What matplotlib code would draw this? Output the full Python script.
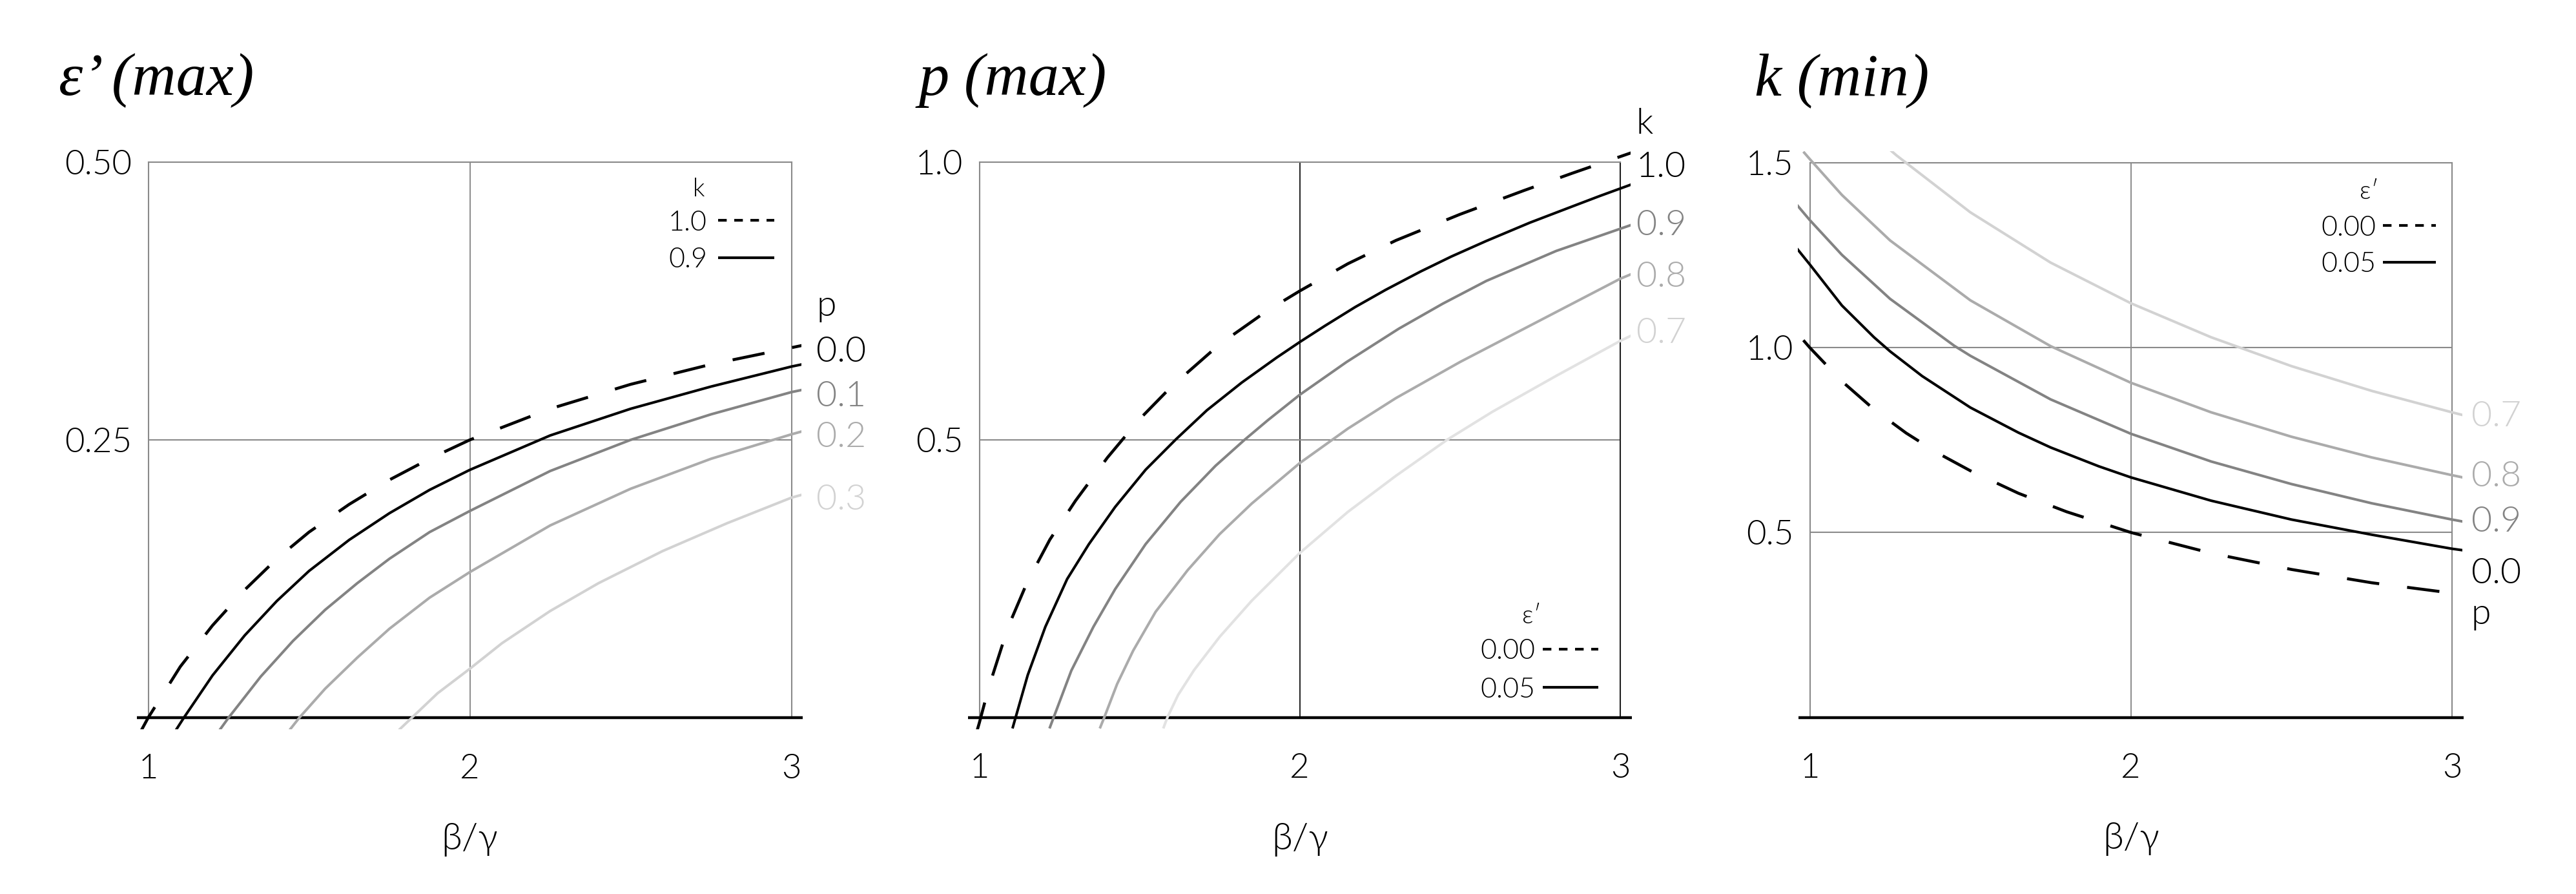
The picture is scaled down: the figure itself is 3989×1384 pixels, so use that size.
import matplotlib
matplotlib.use("Agg")
import matplotlib.pyplot as plt
from matplotlib.patches import Rectangle

# ---------------- data ----------------
# Panel 1: epsilon' (max) against beta/gamma
p1_k10_p00_x = [0.97, 1.0, 1.1, 1.2, 1.3, 1.4, 1.5, 1.625, 1.75, 1.875, 2.0, 2.25, 2.5, 2.75, 3.0, 3.05]
p1_k10_p00_y = [-0.016, 0.0, 0.046, 0.083, 0.115, 0.143, 0.167, 0.192, 0.214, 0.233, 0.250, 0.278, 0.300, 0.318, 0.333, 0.336]
p1_k09_p00_x = [1.08, 1.111, 1.2, 1.3, 1.4, 1.5, 1.625, 1.75, 1.875, 2.0, 2.25, 2.5, 2.75, 3.0, 3.05]
p1_k09_p00_y = [-0.014, 0.0, 0.038, 0.074, 0.105, 0.132, 0.160, 0.184, 0.205, 0.223, 0.254, 0.278, 0.298, 0.316, 0.319]
p1_p01_x = [1.22, 1.25, 1.35, 1.45, 1.55, 1.65, 1.75, 1.875, 2.0, 2.25, 2.5, 2.75, 3.0, 3.05]
p1_p01_y = [-0.012, 0.0, 0.037, 0.069, 0.097, 0.121, 0.143, 0.167, 0.186, 0.222, 0.250, 0.273, 0.293, 0.296]
p1_p02_x = [1.44, 1.47, 1.55, 1.65, 1.75, 1.875, 2.0, 2.25, 2.5, 2.75, 3.0, 3.05]
p1_p02_y = [-0.011, 0.0, 0.026, 0.054, 0.080, 0.108, 0.131, 0.173, 0.206, 0.233, 0.255, 0.259]
p1_p03_x = [1.78, 1.82, 1.9, 2.0, 2.1, 2.25, 2.4, 2.6, 2.8, 3.0, 3.05]
p1_p03_y = [-0.011, 0.0, 0.022, 0.044, 0.067, 0.096, 0.121, 0.150, 0.175, 0.198, 0.202]
p1_yticks = [0.25, 0.50]
p1_yticklabels = ["0.25", "0.50"]
p1_end_labels = ["p", "0.0", "0.1", "0.2", "0.3"]
p1_end_label_y = [0.373, 0.332, 0.292, 0.255, 0.199]
p1_legend_title = "k"
p1_legend_labels = ["1.0", "0.9"]

# Panel 2: p (max) against beta/gamma
p2_e00_k10_x = [0.99, 1.0, 1.03, 1.09, 1.15, 1.22, 1.3, 1.4, 1.5, 1.6, 1.75, 1.9, 2.0, 2.15, 2.3, 2.5, 2.7, 2.85, 3.0, 3.05]
p2_e00_k10_y = [-0.03, -0.01, 0.055, 0.163, 0.244, 0.320, 0.390, 0.468, 0.537, 0.596, 0.672, 0.733, 0.768, 0.817, 0.859, 0.906, 0.949, 0.980, 1.010, 1.020]
p2_k10_x = [1.1035, 1.151, 1.206, 1.274, 1.342, 1.424, 1.519, 1.614, 1.710, 1.819, 1.928, 2.0, 2.078, 2.173, 2.268, 2.377, 2.473, 2.582, 2.718, 2.854, 2.936, 3.05]
p2_k10_y = [-0.02, 0.076, 0.163, 0.249, 0.312, 0.379, 0.446, 0.501, 0.553, 0.603, 0.648, 0.676, 0.705, 0.739, 0.770, 0.803, 0.830, 0.858, 0.891, 0.921, 0.939, 0.963]
p2_k09_x = [1.219, 1.287, 1.356, 1.424, 1.519, 1.628, 1.737, 1.828, 1.9, 2.0, 2.146, 2.309, 2.446, 2.582, 2.80, 3.05]
p2_k09_y = [-0.02, 0.084, 0.163, 0.231, 0.312, 0.388, 0.453, 0.500, 0.535, 0.581, 0.640, 0.700, 0.745, 0.786, 0.840, 0.890]
p2_k08_x = [1.376, 1.39, 1.43, 1.48, 1.55, 1.65, 1.75, 1.85, 2.0, 2.15, 2.3, 2.5, 2.7, 2.85, 3.0, 3.05]
p2_k08_y = [-0.02, 0.0, 0.06, 0.12, 0.19, 0.265, 0.33, 0.385, 0.458, 0.52, 0.575, 0.64, 0.70, 0.745, 0.79, 0.802]
p2_k07_x = [1.574, 1.587, 1.62, 1.67, 1.75, 1.85, 2.0, 2.15, 2.3, 2.46, 2.6, 2.8, 3.0, 3.05]
p2_k07_y = [-0.02, 0.0, 0.04, 0.085, 0.145, 0.21, 0.296, 0.37, 0.435, 0.50, 0.55, 0.615, 0.678, 0.692]
p2_yticks = [0.5, 1.0]
p2_yticklabels = ["0.5", "1.0"]
p2_end_labels = ["k", "1.0", "0.9", "0.8", "0.7"]
p2_end_label_y = [1.074, 0.997, 0.892, 0.799, 0.697]
p2_legend_title = "ε′"
p2_legend_labels = ["0.00", "0.05"]

# Panel 3: k (min) against beta/gamma
p3_e00_p00_x = [0.98, 1.0, 1.1, 1.2, 1.3, 1.4, 1.5, 1.65, 1.8, 2.0, 2.25, 2.5, 2.75, 3.0, 3.05]
p3_e00_p00_y = [1.02, 1.0, 0.909, 0.833, 0.769, 0.714, 0.667, 0.606, 0.556, 0.50, 0.444, 0.40, 0.364, 0.336, 0.330]
p3_p00_x = [0.96, 1.0, 1.1, 1.2, 1.25, 1.35, 1.5, 1.65, 1.75, 1.9, 2.0, 2.25, 2.5, 2.75, 3.0, 3.05]
p3_p00_y = [1.268, 1.225, 1.114, 1.028, 0.990, 0.923, 0.838, 0.770, 0.730, 0.679, 0.649, 0.586, 0.535, 0.494, 0.456, 0.450]
p3_lab09_x = [0.96, 1.0, 1.1, 1.25, 1.45, 1.5, 1.75, 2.0, 2.25, 2.5, 2.75, 3.0, 3.05]
p3_lab09_y = [1.386, 1.345, 1.251, 1.132, 1.005, 0.978, 0.860, 0.767, 0.692, 0.631, 0.579, 0.535, 0.527]
p3_lab08_x = [0.98, 1.0, 1.1, 1.25, 1.5, 1.75, 2.0, 2.25, 2.5, 2.75, 3.0, 3.05]
p3_lab08_y = [1.530, 1.510, 1.413, 1.290, 1.128, 1.004, 0.905, 0.825, 0.759, 0.703, 0.655, 0.646]
p3_lab07_x = [1.25, 1.27, 1.5, 1.75, 2.0, 2.25, 2.5, 2.75, 3.0, 3.05]
p3_lab07_y = [1.535, 1.520, 1.366, 1.230, 1.120, 1.028, 0.950, 0.883, 0.825, 0.814]
p3_yticks = [0.5, 1.0, 1.5]
p3_yticklabels = ["0.5", "1.0", "1.5"]
p3_end_labels = ["0.7", "0.8", "0.9", "0.0", "p"]
p3_end_label_y = [0.822, 0.659, 0.537, 0.397, 0.287]
p3_legend_title = "ε′"
p3_legend_labels = ["0.00", "0.05"]

xticks = [1, 2, 3]
xticklabels = ["1", "2", "3"]
xlabel = "β/γ"
titles = ["ε’ (max)", "p (max)", "k (min)"]

# ---------------- style ----------------
plt.rcParams["font.family"] = ["Lato", "DejaVu Sans"]
plt.rcParams["font.weight"] = 300

BLACK = "#000000"
G1 = "#838383"
G2 = "#ababab"
G3 = "#d2d2d2"
G3b = "#e2e2e2"
FRAME = "#8a8a8a"

DASH = (0, (11, 9.5))
LEG_DASH = (0, (3.2, 2.8))
LW = 1.45
LWD = 1.65

W, H, DPI = 3989, 1384, 200
fig = plt.figure(figsize=(W / DPI, H / DPI), dpi=DPI)


def px_rect(l, r, t, b):
    return [l / W, (H - b) / H, (r - l) / W, (b - t) / H]


axes = [
    fig.add_axes(px_rect(229.5, 1225.5, 251, 1111)),
    fig.add_axes(px_rect(1516.5, 2509, 251, 1110.5)),
    fig.add_axes(px_rect(2802.5, 3797, 252, 1110.5)),
]


def setup(ax, ylim, yticks, yticklabels, vgrid_color=FRAME, right_color=FRAME):
    ax.set_xlim(1, 3)
    ax.set_ylim(*ylim)
    ax.set_xticks(xticks)
    ax.set_xticklabels(xticklabels)
    ax.set_yticks(yticks)
    ax.set_yticklabels(yticklabels)
    ax.tick_params(axis="both", length=0, labelsize=19, labelcolor=BLACK)
    ax.tick_params(axis="x", pad=20)
    ax.tick_params(axis="y", pad=9)
    ax.grid(True, axis="y", color=FRAME, lw=0.75)
    ax.grid(True, axis="x", color=vgrid_color, lw=0.7)
    ax.set_axisbelow(True)
    ax.spines["bottom"].set_visible(False)
    for s in ("left", "top"):
        ax.spines[s].set_color(FRAME)
        ax.spines[s].set_linewidth(0.75)
    ax.spines["right"].set_color(right_color)
    ax.spines["right"].set_linewidth(0.75)
    ax.axhline(0, xmin=-0.018, xmax=1.018, color=BLACK, lw=1.6, clip_on=False,
               solid_capstyle="butt", zorder=3)
    ax.text(0.5, -0.22, xlabel, transform=ax.transAxes, ha="center", va="center",
            fontsize=21, color=BLACK)


def curve(ax, x, y, color, dashed=False):
    clip = Rectangle((-0.019, -0.021), 1.035, 1.042, transform=ax.transAxes,
                     facecolor="none", edgecolor="none")
    ln, = ax.plot(x, y, color=color, lw=LWD if dashed else LW,
                  ls=DASH if dashed else "-", zorder=4, solid_capstyle="butt",
                  dash_capstyle="butt", solid_joinstyle="round")
    ln.set_clip_path(clip)


def end_labels(ax, xpos, labels, ys, colors):
    for lab, yy, c in zip(labels, ys, colors):
        ax.text(xpos, yy, lab, color=c, fontsize=20, ha="left",
                va="center_baseline", clip_on=False)


def legend(ax, title, labels, tx, ty, lab_x, ys, lx0, lx1):
    ax.text(tx, ty, title, transform=ax.transAxes, fontsize=14, ha="center",
            va="center_baseline", color=BLACK)
    for lab, yy, dashed in zip(labels, ys, (True, False)):
        ax.text(lab_x, yy, lab, transform=ax.transAxes, fontsize=15.5,
                ha="right", va="center_baseline", color=BLACK)
        ax.plot([lx0, lx1], [yy, yy], transform=ax.transAxes, color=BLACK,
                lw=1.5, ls=LEG_DASH if dashed else "-", clip_on=False,
                dash_capstyle="butt", solid_capstyle="butt")


# ---------------- panel 1 ----------------
ax = axes[0]
setup(ax, (0, 0.5), p1_yticks, p1_yticklabels)
curve(ax, p1_p03_x, p1_p03_y, G3)
curve(ax, p1_p02_x, p1_p02_y, G2)
curve(ax, p1_p01_x, p1_p01_y, G1)
curve(ax, p1_k09_p00_x, p1_k09_p00_y, BLACK)
curve(ax, p1_k10_p00_x, p1_k10_p00_y, BLACK, dashed=True)
end_labels(ax, 3.078, p1_end_labels, p1_end_label_y, [BLACK, BLACK, G1, G2, G3])
legend(ax, p1_legend_title, p1_legend_labels, 0.856, 0.955, 0.869,
       [0.895, 0.828], 0.886, 0.973)

# ---------------- panel 2 ----------------
ax = axes[1]
setup(ax, (0, 1.0), p2_yticks, p2_yticklabels, vgrid_color="#1e1e1e",
      right_color="#1e1e1e")
curve(ax, p2_k07_x, p2_k07_y, G3b)
curve(ax, p2_k08_x, p2_k08_y, G2)
curve(ax, p2_k09_x, p2_k09_y, G1)
curve(ax, p2_k10_x, p2_k10_y, BLACK)
curve(ax, p2_e00_k10_x, p2_e00_k10_y, BLACK, dashed=True)
end_labels(ax, 3.05, p2_end_labels, p2_end_label_y, [BLACK, BLACK, G1, G2, G3])
legend(ax, p2_legend_title, p2_legend_labels, 0.862, 0.186, 0.867,
       [0.123, 0.054], 0.879, 0.966)

# ---------------- panel 3 ----------------
ax = axes[2]
setup(ax, (0, 1.5), p3_yticks, p3_yticklabels)
curve(ax, p3_lab07_x, p3_lab07_y, G3)
curve(ax, p3_lab08_x, p3_lab08_y, G2)
curve(ax, p3_lab09_x, p3_lab09_y, G1)
curve(ax, p3_p00_x, p3_p00_y, BLACK)
curve(ax, p3_e00_p00_x, p3_e00_p00_y, BLACK, dashed=True)
end_labels(ax, 3.06, p3_end_labels, p3_end_label_y, [G3, G2, G1, BLACK, BLACK])
legend(ax, p3_legend_title, p3_legend_labels, 0.871, 0.952, 0.882,
       [0.887, 0.821], 0.892, 0.975)

# ---------------- titles ----------------
for xpx, t in zip((91, 1423, 2717), titles):
    fig.text(xpx / W, (H - 147) / H, t, family=["Liberation Serif", "DejaVu Serif"],
             style="italic", weight="normal", fontsize=34, ha="left", va="baseline")

fig.savefig("out.png", dpi=DPI, facecolor="white")
